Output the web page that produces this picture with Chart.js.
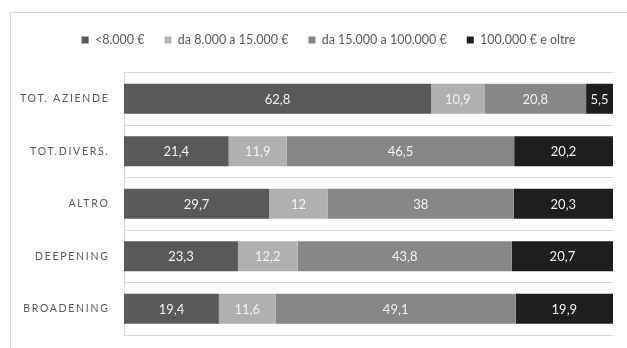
<!DOCTYPE html>
<html>
<head>
<meta charset="utf-8">
<script src="https://cdn.jsdelivr.net/npm/chart.js@4/dist/chart.umd.min.js"></script>
<style>
  html, body { margin: 0; padding: 0; background: #fff; overflow: hidden; }
  #wrap { position: relative; width: 627px; height: 348px; }
  #frame { position: absolute; left: 10px; top: 12px; width: 700px; height: 400px; border: 1px solid #d9d9d9; }
  canvas { position: absolute; left: 0; top: 0; }
</style>
</head>
<body>
<div id="wrap">
  <div id="frame"></div>
  <canvas id="barChart"></canvas>
</div>
<script>
document.addEventListener('DOMContentLoaded', function () {
    "use strict";

    var categories = ['TOT. AZIENDE', 'TOT.DIVERS.', 'ALTRO', 'DEEPENING', 'BROADENING'];
    var seriesNames = ['<8.000 €', 'da 8.000 a 15.000 €', 'da 15.000 a 100.000 €', '100.000 € e oltre'];

    var under8k = [62.8, 21.4, 29.7, 23.3, 19.4];
    var from8kTo15k = [10.9, 11.9, 12, 12.2, 11.6];
    var from15kTo100k = [20.8, 46.5, 38, 43.8, 49.1];
    var over100k = [5.5, 20.2, 20.3, 20.7, 19.9];

    var colors = ['#595959', '#b0b0b0', '#878787', '#1e1e1e'];

    // spaced capitals on the category axis
    var spacedLabels = {
        id: 'spacedLabels',
        beforeDraw: function (chart) {
            var y = chart.scales.y;
            if (!y || y._spaced) return;
            var orig = y.drawLabels;
            y.drawLabels = function (area) {
                this.ctx.save();
                this.ctx.letterSpacing = '1.7px';
                orig.call(this, area);
                this.ctx.restore();
            };
            y._spaced = true;
        }
    };

    // legend sits a little right of the canvas centre
    var legendShift = {
        id: 'legendShift',
        afterLayout: function (chart) {
            if (chart.legend) chart.legend.left = 44;
        }
    };

    // value written in the middle of each segment
    var segmentValues = {
        id: 'segmentValues',
        afterDatasetsDraw: function (chart) {
            var ctx = chart.ctx;
            ctx.save();
            ctx.font = '13px Lato';
            ctx.fillStyle = '#f2f2f2';
            ctx.textAlign = 'center';
            ctx.textBaseline = 'middle';
            chart.data.datasets.forEach(function (ds, i) {
                chart.getDatasetMeta(i).data.forEach(function (bar, j) {
                    var p = bar.getProps(['x', 'y', 'base'], true);
                    var txt = String(ds.data[j]).replace('.', ',');
                    ctx.fillText(txt, (p.x + p.base) / 2, p.y + 1);
                });
            });
            ctx.restore();
        }
    };

    var values = [under8k, from8kTo15k, from15kTo100k, over100k];

    var ctx = document.getElementById('barChart');
    if (ctx) {
        ctx.width = 627;
        ctx.height = 348;
        new Chart(ctx, {
            type: 'bar',
            data: {
                labels: categories,
                datasets: values.map(function (d, i) {
                    return {
                        label: seriesNames[i],
                        data: d,
                        backgroundColor: colors[i],
                        borderWidth: 0,
                        categoryPercentage: 1,
                        barPercentage: 0.57
                    };
                })
            },
            options: {
                indexAxis: 'y',
                responsive: false,
                animation: false,
                layout: { padding: { left: 0, right: 14, top: 13.75, bottom: 13 } },
                plugins: {
                    legend: {
                        position: 'top',
                        labels: {
                            boxWidth: 7,
                            boxHeight: 7,
                            padding: 20,
                            color: '#595959',
                            font: { family: 'Lato', size: 12.5 }
                        }
                    },
                    tooltip: { enabled: false }
                },
                scales: {
                    x: {
                        stacked: true,
                        position: 'top',
                        min: 0,
                        max: 100,
                        grid: { display: false },
                        border: { display: false },
                        ticks: { display: false },
                        afterFit: function (s) { s.height = 16.25; }
                    },
                    y: {
                        stacked: true,
                        grid: { color: '#d9d9d9', drawTicks: false, offset: true },
                        border: { display: true, color: '#d9d9d9' },
                        ticks: {
                            color: '#595959',
                            padding: 14.5,
                            font: { family: 'Lato', size: 10.5 }
                        },
                        afterFit: function (s) {
                            s.width = 124;
                            s.paddingTop = 0;
                            s.paddingBottom = 0;
                        }
                    }
                }
            },
            plugins: [spacedLabels, legendShift, segmentValues]
        });
    }
});
</script>
</body>
</html>
